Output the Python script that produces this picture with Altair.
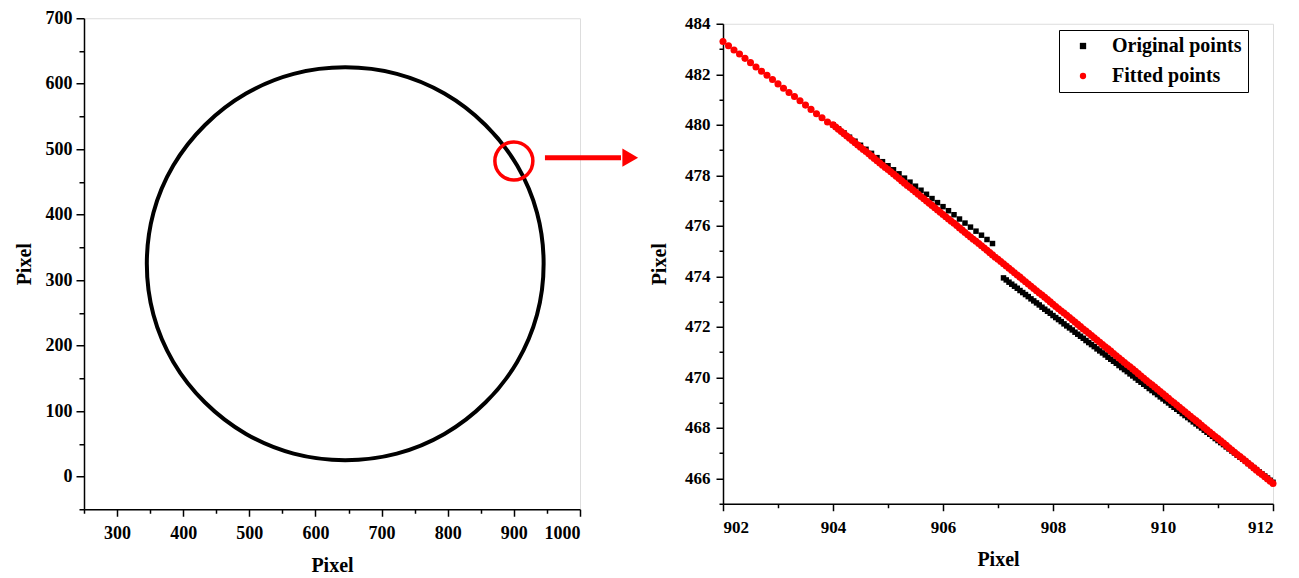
import altair as alt
import pandas as pd

# ---------------- Left panel: extracted circle (pixel coordinates) ----------------
circle_x = [945, 935, 905, 857, 795, 723, 645, 567, 495, 433, 385, 355,
            345, 355, 385, 433, 495, 567, 645, 723, 795, 857, 905, 935]
circle_y = [325, 403, 475, 537, 585, 615, 625, 615, 585, 537, 475, 403,
            325, 247, 175, 113, 65, 35, 25, 35, 65, 113, 175, 247]

# zoom marker and arrow (data coordinates of the left panel)
mark_x = [900]
mark_y = [482]
arrow_x0 = [947]
arrow_x1 = [1062]
arrow_y = [487]
arrow_head_x = [1076]

# ---------------- Right panel: zoomed edge points ----------------
orig_seg1_x = [904.0, 904.1, 904.2, 904.3, 904.4, 904.5, 904.6, 904.7, 904.8, 904.9,
               905.0, 905.1, 905.2, 905.3, 905.4, 905.5, 905.6, 905.7, 905.8, 905.9,
               906.0, 906.1, 906.2, 906.3, 906.4, 906.5, 906.6, 906.7, 906.8, 906.9]
orig_seg1_y = [480.00, 479.84, 479.68, 479.51, 479.35, 479.19, 479.03, 478.87, 478.70, 478.54,
               478.38, 478.22, 478.06, 477.89, 477.73, 477.57, 477.41, 477.25, 477.08, 476.92,
               476.76, 476.60, 476.44, 476.27, 476.11, 475.95, 475.79, 475.63, 475.46, 475.30]

orig_seg2_x = [907.10, 907.15, 907.20, 907.25, 907.30, 907.35, 907.40, 907.45, 907.50, 907.55,
               907.60, 907.65, 907.70, 907.75, 907.80, 907.85, 907.90, 907.95, 908.00, 908.05,
               908.10, 908.15, 908.20, 908.25, 908.30, 908.35, 908.40, 908.45, 908.50, 908.55,
               908.60, 908.65, 908.70, 908.75, 908.80, 908.85, 908.90, 908.95, 909.00, 909.05,
               909.10, 909.15, 909.20, 909.25, 909.30, 909.35, 909.40, 909.45, 909.50, 909.55,
               909.60, 909.65, 909.70, 909.75, 909.80, 909.85, 909.90, 909.95, 910.00, 910.05,
               910.10, 910.15, 910.20, 910.25, 910.30, 910.35, 910.40, 910.45, 910.50, 910.55,
               910.60, 910.65, 910.70, 910.75, 910.80, 910.85, 910.90, 910.95, 911.00, 911.05,
               911.10, 911.15, 911.20, 911.25, 911.30, 911.35, 911.40, 911.45, 911.50, 911.55,
               911.60, 911.65, 911.70, 911.75, 911.80, 911.85, 911.90, 911.95, 912.00]
orig_seg2_y = [473.94, 473.86, 473.77, 473.69, 473.61, 473.53, 473.44, 473.36, 473.28, 473.20,
               473.11, 473.03, 472.95, 472.87, 472.78, 472.70, 472.62, 472.54, 472.45, 472.37,
               472.29, 472.21, 472.12, 472.04, 471.96, 471.88, 471.79, 471.71, 471.63, 471.55,
               471.46, 471.38, 471.30, 471.22, 471.13, 471.05, 470.97, 470.89, 470.80, 470.72,
               470.64, 470.56, 470.47, 470.39, 470.31, 470.23, 470.14, 470.06, 469.98, 469.89,
               469.81, 469.73, 469.65, 469.56, 469.48, 469.40, 469.32, 469.23, 469.15, 469.07,
               468.99, 468.90, 468.82, 468.74, 468.66, 468.57, 468.49, 468.41, 468.33, 468.24,
               468.16, 468.08, 468.00, 467.91, 467.83, 467.75, 467.67, 467.58, 467.50, 467.42,
               467.34, 467.25, 467.17, 467.09, 467.01, 466.92, 466.84, 466.76, 466.68, 466.59,
               466.51, 466.43, 466.35, 466.26, 466.18, 466.10, 466.02, 465.93, 465.85]

fit_seg1_x = [902.0, 902.1, 902.2, 902.3, 902.4, 902.5, 902.6, 902.7, 902.8, 902.9,
              903.0, 903.1, 903.2, 903.3, 903.4, 903.5, 903.6, 903.7, 903.8, 903.9]
fit_seg1_y = [483.30, 483.13, 482.96, 482.80, 482.63, 482.46, 482.29, 482.12, 481.96, 481.79,
              481.62, 481.45, 481.28, 481.12, 480.95, 480.78, 480.61, 480.44, 480.28, 480.11]

fit_seg2_x = [904.00, 904.05, 904.10, 904.15, 904.20, 904.25, 904.30, 904.35, 904.40, 904.45,
              904.50, 904.55, 904.60, 904.65, 904.70, 904.75, 904.80, 904.85, 904.90, 904.95,
              905.00, 905.05, 905.10, 905.15, 905.20, 905.25, 905.30, 905.35, 905.40, 905.45,
              905.50, 905.55, 905.60, 905.65, 905.70, 905.75, 905.80, 905.85, 905.90, 905.95,
              906.00, 906.05, 906.10, 906.15, 906.20, 906.25, 906.30, 906.35, 906.40, 906.45,
              906.50, 906.55, 906.60, 906.65, 906.70, 906.75, 906.80, 906.85, 906.90, 906.95,
              907.00, 907.05, 907.10, 907.15, 907.20, 907.25, 907.30, 907.35, 907.40, 907.45,
              907.50, 907.55, 907.60, 907.65, 907.70, 907.75, 907.80, 907.85, 907.90, 907.95,
              908.00, 908.05, 908.10, 908.15, 908.20, 908.25, 908.30, 908.35, 908.40, 908.45,
              908.50, 908.55, 908.60, 908.65, 908.70, 908.75, 908.80, 908.85, 908.90, 908.95,
              909.00, 909.05, 909.10, 909.15, 909.20, 909.25, 909.30, 909.35, 909.40, 909.45,
              909.50, 909.55, 909.60, 909.65, 909.70, 909.75, 909.80, 909.85, 909.90, 909.95,
              910.00, 910.05, 910.10, 910.15, 910.20, 910.25, 910.30, 910.35, 910.40, 910.45,
              910.50, 910.55, 910.60, 910.65, 910.70, 910.75, 910.80, 910.85, 910.90, 910.95,
              911.00, 911.05, 911.10, 911.15, 911.20, 911.25, 911.30, 911.35, 911.40, 911.45,
              911.50, 911.55, 911.60, 911.65, 911.70, 911.75, 911.80, 911.85, 911.90, 911.95,
              912.00]
fit_seg2_y = [480.00, 479.91, 479.82, 479.73, 479.65, 479.56, 479.47, 479.38, 479.29, 479.20,
              479.11, 479.02, 478.94, 478.85, 478.76, 478.67, 478.58, 478.49, 478.40, 478.31,
              478.23, 478.14, 478.05, 477.96, 477.87, 477.78, 477.69, 477.60, 477.52, 477.43,
              477.34, 477.25, 477.16, 477.07, 476.98, 476.89, 476.81, 476.72, 476.63, 476.54,
              476.45, 476.36, 476.27, 476.18, 476.10, 476.01, 475.92, 475.83, 475.74, 475.65,
              475.56, 475.47, 475.39, 475.30, 475.21, 475.12, 475.03, 474.94, 474.85, 474.76,
              474.68, 474.59, 474.50, 474.41, 474.32, 474.23, 474.14, 474.05, 473.97, 473.88,
              473.79, 473.70, 473.61, 473.52, 473.43, 473.34, 473.26, 473.17, 473.08, 472.99,
              472.90, 472.81, 472.72, 472.63, 472.55, 472.46, 472.37, 472.28, 472.19, 472.10,
              472.01, 471.92, 471.84, 471.75, 471.66, 471.57, 471.48, 471.39, 471.30, 471.21,
              471.13, 471.04, 470.95, 470.86, 470.77, 470.68, 470.59, 470.50, 470.42, 470.33,
              470.24, 470.15, 470.06, 469.97, 469.88, 469.79, 469.71, 469.62, 469.53, 469.44,
              469.35, 469.26, 469.17, 469.08, 469.00, 468.91, 468.82, 468.73, 468.64, 468.55,
              468.46, 468.37, 468.29, 468.20, 468.11, 468.02, 467.93, 467.84, 467.75, 467.66,
              467.58, 467.49, 467.40, 467.31, 467.22, 467.13, 467.04, 466.95, 466.87, 466.78,
              466.69, 466.60, 466.51, 466.42, 466.33, 466.24, 466.16, 466.07, 465.98, 465.89,
              465.80]

series_names = ["Original points", "Fitted points"]

# ---------------- Tick values ----------------
left_x_ticks = list(range(250, 1001, 50))
left_y_ticks = list(range(-50, 701, 50))
right_x_ticks = list(range(902, 913, 1))
right_y_ticks = list(range(465, 485, 1))

FONT = "Liberation Serif"

# ---------------- Data frames ----------------
circle_df = pd.DataFrame({"x": circle_x, "y": circle_y, "i": list(range(len(circle_x)))})
mark_df = pd.DataFrame({"x": mark_x, "y": mark_y})
arrow_df = pd.DataFrame({"x": arrow_x0, "x2": arrow_x1, "y": arrow_y})
head_df = pd.DataFrame({"x": arrow_head_x, "y": arrow_y})

orig_df = pd.DataFrame({"x": orig_seg1_x + orig_seg2_x,
                        "y": orig_seg1_y + orig_seg2_y,
                        "series": series_names[0]})
fit_df = pd.DataFrame({"x": fit_seg1_x + fit_seg2_x,
                       "y": fit_seg1_y + fit_seg2_y,
                       "series": series_names[1]})


def make_axis(values, major_mod, orient, tick_major, tick_minor, label_pad, title_pad, label_size):
    return alt.Axis(
        values=values,
        orient=orient,
        grid=False,
        labelExpr=f"datum.value % {major_mod} === 0 ? '' + datum.value : ''",
        tickSize={"condition": {"test": f"datum.value % {major_mod} === 0", "value": tick_major},
                  "value": tick_minor},
        labelPadding=label_pad,
        titlePadding=title_pad,
        labelFont=FONT, labelFontWeight="bold", labelFontSize=label_size, labelColor="black",
        titleFont=FONT, titleFontWeight="bold", titleFontSize=20, titleColor="black",
        domainColor="black", domainWidth=1.5, tickColor="black", tickWidth=1.5,
        labelOverlap=False,
    )


lx_scale = alt.Scale(domain=[250, 1000], nice=False, zero=False)
ly_scale = alt.Scale(domain=[-50, 700], nice=False, zero=False)
lx_axis = make_axis(left_x_ticks, 100, "bottom", 7, 4, 8, 13, 18)
ly_axis = make_axis(left_y_ticks, 100, "left", 8, 5, 4, 11, 18)


def lx():
    return alt.X("x:Q", scale=lx_scale, axis=lx_axis, title="Pixel")


def ly():
    return alt.Y("y:Q", scale=ly_scale, axis=ly_axis, title="Pixel")


circle_line = alt.Chart(circle_df).mark_line(
    color="black", strokeWidth=4, interpolate="cardinal-closed"
).encode(x=lx(), y=ly(), order="i:Q")

mark_ring = alt.Chart(mark_df).mark_point(
    shape="circle", filled=False, color="red", strokeWidth=3.5, size=1444, opacity=1
).encode(x=lx(), y=ly())

arrow_shaft = alt.Chart(arrow_df).mark_rule(color="red", strokeWidth=5).encode(
    x=lx(), x2="x2:Q", y=ly()
)

arrow_head = alt.Chart(head_df).mark_point(
    shape="triangle-right", filled=True, color="red", size=330, opacity=1
).encode(x=lx(), y=ly())

left = alt.layer(circle_line, mark_ring, arrow_shaft, arrow_head).properties(width=496, height=491)

# ---------------- Right panel ----------------
rx_scale = alt.Scale(domain=[902, 912], nice=False, zero=False)
ry_scale = alt.Scale(domain=[465, 484], nice=False, zero=False)
rx_axis = make_axis(right_x_ticks, 2, "bottom", 7, 4, 9, 14, 17)
ry_axis = make_axis(right_y_ticks, 2, "left", 7, 4, 6, 15, 17)

legend = alt.Legend(
    title=None, orient="none", legendX=975, legendY=12,
    strokeColor="black", fillColor="white", padding=6, cornerRadius=0,
    labelFont=FONT, labelFontWeight="bold", labelFontSize=20, labelColor="black",
    symbolSize=40, symbolOffset=8, labelOffset=19, rowPadding=10, symbolStrokeWidth=0,
)
color_enc = alt.Color("series:N", scale=alt.Scale(domain=series_names, range=["black", "red"]), legend=legend)
shape_enc = alt.Shape("series:N", scale=alt.Scale(domain=series_names, range=["square", "circle"]), legend=legend)

orig_pts = alt.Chart(orig_df).mark_point(filled=True, size=30, opacity=1).encode(
    x=alt.X("x:Q", scale=rx_scale, axis=rx_axis, title="Pixel"),
    y=alt.Y("y:Q", scale=ry_scale, axis=ry_axis, title="Pixel"),
    color=color_enc,
    shape=shape_enc,
)
fit_pts = alt.Chart(fit_df).mark_point(filled=True, size=50, opacity=1).encode(
    x=alt.X("x:Q", scale=rx_scale, axis=rx_axis, title="Pixel"),
    y=alt.Y("y:Q", scale=ry_scale, axis=ry_axis, title="Pixel"),
    color=color_enc,
    shape=shape_enc,
)

right = alt.layer(orig_pts, fit_pts).properties(width=550, height=480)

chart = alt.hconcat(left, right, spacing=10, center=True).properties(
    padding={"left": 5, "top": 0, "right": 5, "bottom": 0}
).configure_view(stroke=None).configure(background="white")

chart.save("out.html", embed_options={"renderer": "svg", "actions": False})
